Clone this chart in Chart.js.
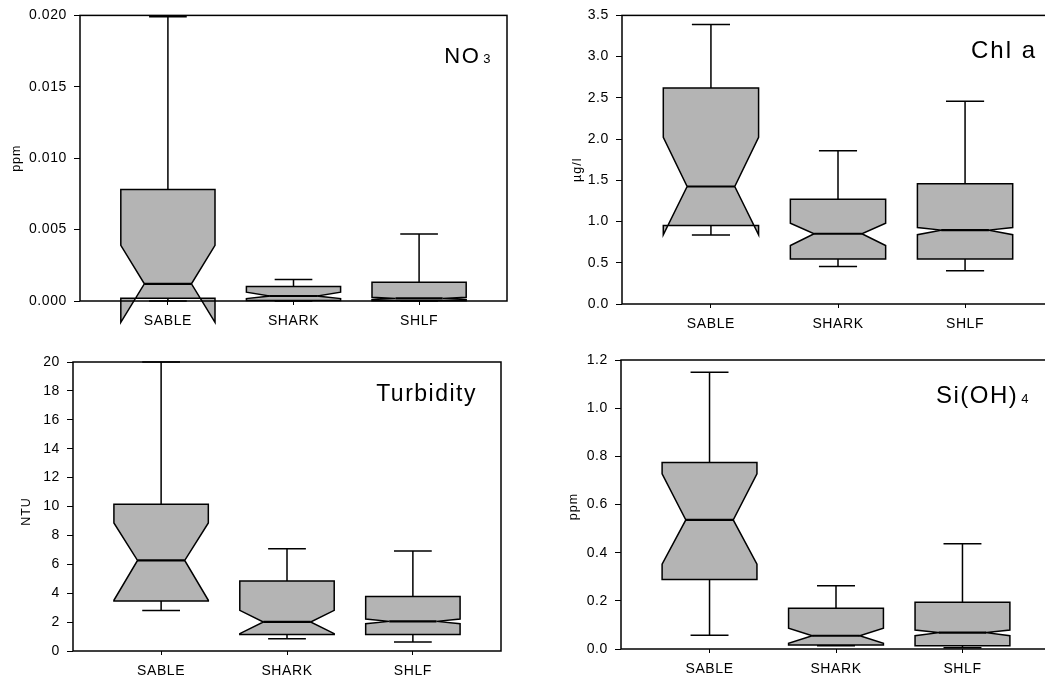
<!DOCTYPE html>
<html>
<head>
<meta charset="utf-8">
<script src="https://cdn.jsdelivr.net/npm/chart.js@4.4.1/dist/chart.umd.min.js"></script>
<style>
  html, body { margin: 0; padding: 0; background: #fff; overflow: hidden; }
  body { width: 1045px; height: 679px; position: relative; }
  canvas { position: absolute; }
</style>
</head>
<body>
<canvas id="c1" width="530" height="330" style="left:0;top:0"></canvas>
<canvas id="c2" width="530" height="330" style="left:530px;top:0"></canvas>
<canvas id="c3" width="530" height="349" style="left:0;top:330px"></canvas>
<canvas id="c4" width="530" height="349" style="left:530px;top:330px"></canvas>
<script>
const categories = ['SABLE', 'SHARK', 'SHLF'];

// NO3 (ppm)
const no3WhiskerLow = [0.0, 0.0, 0.0];
const no3Q1 = [0.0002, 0.00003, 0.00001];
const no3NotchLow = [-0.0015, 0.00017, 0.0001];
const no3Median = [0.0012, 0.00035, 0.00018];
const no3NotchHigh = [0.0039, 0.00062, 0.00026];
const no3Q3 = [0.0078, 0.00102, 0.00132];
const no3WhiskerHigh = [0.0199, 0.0015, 0.0047];
const no3Ticks = [0, 0.005, 0.010, 0.015, 0.020];

// Chl a (µg/l)
const chlWhiskerLow = [0.836, 0.456, 0.404];
const chlQ1 = [0.953, 0.545, 0.545];
const chlNotchLow = [0.84, 0.71, 0.84];
const chlMedian = [1.425, 0.852, 0.896];
const chlNotchHigh = [2.02, 0.98, 0.928];
const chlQ3 = [2.62, 1.27, 1.457];
const chlWhiskerHigh = [3.39, 1.86, 2.46];
const chlTicks = [0, 0.5, 1.0, 1.5, 2.0, 2.5, 3.0, 3.5];

// Turbidity (NTU)
const turbWhiskerLow = [2.81, 0.85, 0.62];
const turbQ1 = [3.46, 1.15, 1.15];
const turbNotchLow = [3.51, 1.2, 1.89];
const turbMedian = [6.27, 2.01, 2.05];
const turbNotchHigh = [8.86, 2.81, 2.21];
const turbQ3 = [10.15, 4.84, 3.78];
const turbWhiskerHigh = [20, 7.08, 6.92];
const turbTicks = [0, 2, 4, 6, 8, 10, 12, 14, 16, 18, 20];

// Si(OH)4 (ppm)
const siWhiskerLow = [0.057, 0.014, 0.005];
const siQ1 = [0.289, 0.017, 0.014];
const siNotchLow = [0.352, 0.024, 0.055];
const siMedian = [0.536, 0.055, 0.068];
const siNotchHigh = [0.727, 0.086, 0.079];
const siQ3 = [0.774, 0.169, 0.194];
const siWhiskerHigh = [1.149, 0.263, 0.437];
const siTicks = [0, 0.2, 0.4, 0.6, 0.8, 1.0, 1.2];

const FONT = "'Liberation Sans', Arial, sans-serif";
const BOX_WIDTH = 0.75;   // in category units
const CAP_RATIO = 0.4;    // cap half-width relative to box half-width

// draws notched boxes through the chart scales
const notchBoxPlugin = {
  id: 'notchBox',
  beforeDraw(chart) {
    chart.ctx.letterSpacing = '0.6px';
  },
  afterDatasetsDraw(chart, args, opts) {
    const {ctx} = chart;
    const x = chart.scales.x;
    const y = chart.scales.y;
    const s = opts.series;
    const py = v => y.getPixelForValue(v);

    ctx.save();
    ctx.strokeStyle = '#000';
    ctx.lineJoin = 'miter';

    s.median.forEach((median, i) => {
      const xc = x.getPixelForValue(i + 1);
      const half = x.getPixelForValue(i + 1 + BOX_WIDTH / 2) - xc;
      const cap = half * CAP_RATIO;
      const L = xc - half, R = xc + half;
      const mL = xc - half / 2, mR = xc + half / 2;

      ctx.lineWidth = 1.5;
      ctx.beginPath();
      ctx.moveTo(xc, py(s.q3[i]));
      ctx.lineTo(xc, py(s.whiskerHigh[i]));
      ctx.moveTo(xc - cap, py(s.whiskerHigh[i]));
      ctx.lineTo(xc + cap, py(s.whiskerHigh[i]));
      ctx.moveTo(xc, py(s.q1[i]));
      ctx.lineTo(xc, py(s.whiskerLow[i]));
      ctx.moveTo(xc - cap, py(s.whiskerLow[i]));
      ctx.lineTo(xc + cap, py(s.whiskerLow[i]));
      ctx.stroke();

      ctx.beginPath();
      ctx.moveTo(L, py(s.q3[i]));
      ctx.lineTo(L, py(s.notchHigh[i]));
      ctx.lineTo(mL, py(median));
      ctx.lineTo(L, py(s.notchLow[i]));
      ctx.lineTo(L, py(s.q1[i]));
      ctx.lineTo(R, py(s.q1[i]));
      ctx.lineTo(R, py(s.notchLow[i]));
      ctx.lineTo(mR, py(median));
      ctx.lineTo(R, py(s.notchHigh[i]));
      ctx.lineTo(R, py(s.q3[i]));
      ctx.closePath();
      ctx.fillStyle = '#b4b4b4';
      ctx.fill();
      ctx.stroke();

      ctx.lineWidth = 2.2;
      ctx.beginPath();
      ctx.moveTo(mL, py(median));
      ctx.lineTo(mR, py(median));
      ctx.stroke();
    });
    ctx.restore();
  },
  afterDraw(chart, args, opts) {
    const {ctx, chartArea: a} = chart;
    ctx.save();
    ctx.strokeStyle = '#000';
    ctx.lineWidth = 1.5;
    ctx.strokeRect(a.left, a.top, a.right - a.left, a.bottom - a.top);

    // panel label, with optional subscript
    ctx.fillStyle = '#000';
    ctx.textBaseline = 'alphabetic';
    ctx.textAlign = 'left';
    ctx.letterSpacing = opts.labelSpacing;
    ctx.font = opts.labelSize + 'px ' + FONT;
    const mainW = ctx.measureText(opts.label).width;
    let subW = 0;
    if (opts.sub) {
      ctx.font = '13px ' + FONT;
      subW = ctx.measureText(opts.sub).width + 3;
    }
    const x0 = a.right - opts.labelRight - mainW - subW;
    const base = a.top + opts.labelBase;
    ctx.font = opts.labelSize + 'px ' + FONT;
    ctx.fillText(opts.label, x0, base);
    if (opts.sub) {
      ctx.font = '13px ' + FONT;
      ctx.fillText(opts.sub, x0 + mainW + 3, base);
    }

    // y axis title
    ctx.letterSpacing = '1px';
    ctx.font = '12.5px ' + FONT;
    ctx.textAlign = 'center';
    ctx.textBaseline = 'middle';
    ctx.translate(a.left - opts.yTitleGap, (a.top + a.bottom) / 2 + opts.yTitleShift);
    ctx.rotate(-Math.PI / 2);
    ctx.fillText(opts.yTitle, 0, 0);
    ctx.restore();
  }
};

function makePanel(id, area, size, yTicks, decimals, series, labelOpts) {
  const yMin = yTicks[0];
  const yMax = yTicks[yTicks.length - 1];
  new Chart(document.getElementById(id), {
    type: 'scatter',
    data: {datasets: [{data: []}]},
    plugins: [notchBoxPlugin],
    options: {
      responsive: false,
      animation: false,
      events: [],
      layout: {padding: {left: 0, top: area.top, right: size.w - area.right, bottom: 0}},
      plugins: {
        legend: {display: false},
        tooltip: {enabled: false},
        notchBox: Object.assign({series: series}, labelOpts)
      },
      scales: {
        x: {
          type: 'linear',
          min: 0.3,
          max: 3.7,
          afterBuildTicks: scale => { scale.ticks = categories.map((c, i) => ({value: i + 1})); },
          afterFit: scale => { scale.height = size.h - area.bottom; },
          border: {display: false},
          grid: {drawOnChartArea: false, color: '#000', tickLength: 4, lineWidth: 1},
          ticks: {
            color: '#000',
            font: {family: FONT, size: 14},
            padding: 8,
            maxRotation: 0,
            callback: v => categories[v - 1]
          }
        },
        y: {
          min: yMin,
          max: yMax,
          afterBuildTicks: scale => { scale.ticks = yTicks.map(v => ({value: v})); },
          afterFit: scale => { scale.width = area.left; },
          border: {display: false},
          grid: {drawOnChartArea: false, color: '#000', tickLength: 6, lineWidth: 1},
          ticks: {
            color: '#000',
            font: {family: FONT, size: 14},
            padding: 7,
            callback: v => Number(v).toFixed(decimals)
          }
        }
      }
    }
  });
}

makePanel('c1', {left: 80, right: 507, top: 12, bottom: 301}, {w: 530, h: 330}, no3Ticks, 3,
  {whiskerLow: no3WhiskerLow, q1: no3Q1, notchLow: no3NotchLow, median: no3Median,
   notchHigh: no3NotchHigh, q3: no3Q3, whiskerHigh: no3WhiskerHigh},
  {label: 'NO', sub: '3', labelSize: 22, labelSpacing: '1.5px', labelRight: 15, labelBase: 48,
   yTitle: 'ppm', yTitleGap: 63, yTitleShift: 0});

makePanel('c2', {left: 92, right: 524, top: 15, bottom: 304}, {w: 530, h: 330}, chlTicks, 1,
  {whiskerLow: chlWhiskerLow, q1: chlQ1, notchLow: chlNotchLow, median: chlMedian,
   notchHigh: chlNotchHigh, q3: chlQ3, whiskerHigh: chlWhiskerHigh},
  {label: 'Chl a', sub: '', labelSize: 24, labelSpacing: '2px', labelRight: 17, labelBase: 43,
   yTitle: 'µg/l', yTitleGap: 44, yTitleShift: 10});

makePanel('c3', {left: 73, right: 501, top: 32, bottom: 321}, {w: 530, h: 349}, turbTicks, 0,
  {whiskerLow: turbWhiskerLow, q1: turbQ1, notchLow: turbNotchLow, median: turbMedian,
   notchHigh: turbNotchHigh, q3: turbQ3, whiskerHigh: turbWhiskerHigh},
  {label: 'Turbidity', sub: '', labelSize: 23, labelSpacing: '1.5px', labelRight: 24, labelBase: 39,
   yTitle: 'NTU', yTitleGap: 46, yTitleShift: 5});

makePanel('c4', {left: 91, right: 521, top: 30, bottom: 319}, {w: 530, h: 349}, siTicks, 1,
  {whiskerLow: siWhiskerLow, q1: siQ1, notchLow: siNotchLow, median: siMedian,
   notchHigh: siNotchHigh, q3: siQ3, whiskerHigh: siWhiskerHigh},
  {label: 'Si(OH)', sub: '4', labelSize: 24, labelSpacing: '1.5px', labelRight: 21, labelBase: 43,
   yTitle: 'ppm', yTitleGap: 47, yTitleShift: 2});
</script>
</body>
</html>
